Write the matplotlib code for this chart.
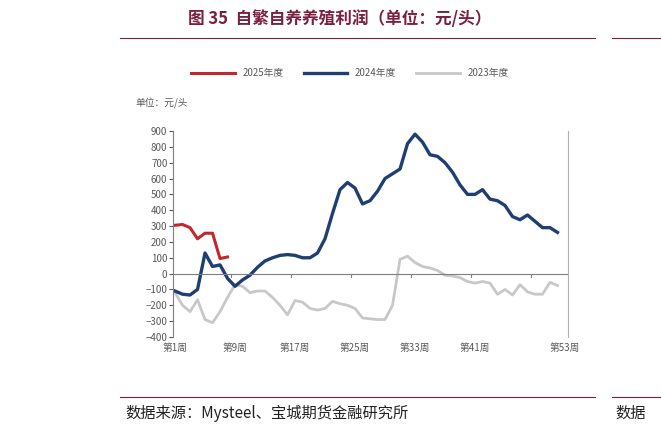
import matplotlib.pyplot as plt
import numpy as np

plt.rcParams['font.family'] = ['Noto Sans CJK SC', 'DejaVu Sans']

# 数据
weeks_2024 = list(range(1, 53))
profit_2024 = [-110, -130, -135, -100, 130, 45, 55, -30, -80, -40, -10, 40, 80, 100, 115, 120,
               115, 100, 100, 130, 220, 380, 530, 575, 540, 440, 460, 520, 600, 630, 660, 820,
               880, 830, 750, 740, 700, 640, 560, 500, 500, 530, 470, 460, 430, 360, 340, 370,
               330, 290, 290, 260]
weeks_2025 = list(range(1, 9))
profit_2025 = [305, 310, 290, 220, 255, 255, 95, 105]
weeks_2023 = list(range(1, 53))
profit_2023 = [-120, -200, -240, -165, -290, -310, -240, -150, -70, -80, -120, -110, -110, -150,
               -200, -260, -170, -180, -220, -230, -220, -175, -190, -200, -220, -280, -285, -290,
               -290, -200, 90, 110, 70, 45, 35, 20, -10, -15, -25, -50, -60, -50, -60, -130,
               -100, -135, -70, -115, -130, -130, -55, -75]
tick_weeks = [1, 9, 17, 25, 33, 41, 53]
tick_labels = ['第1周', '第9周', '第17周', '第25周', '第33周', '第41周', '第53周']

W, H = 661, 433
fig = plt.figure(figsize=(W / 100, H / 100), dpi=100)
ax = fig.add_axes([173 / W, 1 - 337 / H, (568 - 173) / W, (337 - 131) / H])

grey = '#7f7f7f'
ax.plot(weeks_2023, profit_2023, color='#c8c8c8', lw=2, label='2023年度')
ax.plot(weeks_2024, profit_2024, color='#1f3f73', lw=2.4, label='2024年度')
ax.plot(weeks_2025, profit_2025, color='#c0282d', lw=2.2, label='2025年度')

ax.set_xlim(0.73, 53.4)
ax.set_ylim(-400, 900)
ax.set_yticks(range(-400, 901, 100))
ax.tick_params(axis='y', labelsize=7, colors='#595959', length=3, pad=1)
ax.set_xticks(tick_weeks)
ax.set_xticklabels(tick_labels)
ax.tick_params(axis='x', labelsize=7, colors='#595959', length=0, pad=4)
for s in ['top', 'bottom']:
    ax.spines[s].set_visible(False)
ax.spines['left'].set_color(grey)
ax.spines['right'].set_color('#b0b0b0')
ax.axhline(0, color=grey, lw=0.8)
for t in np.arange(8.5, 53, 8):
    ax.plot([t, t], [0, -22], color=grey, lw=0.8)

h, l = ax.get_legend_handles_labels()
fig.legend(h[::-1], l[::-1], loc='center', bbox_to_anchor=(350 / W, 1 - 73 / H), ncol=3,
           frameon=False, fontsize=7, labelcolor='#595959', handlelength=4.5, columnspacing=2)

fig.text(135 / W, 1 - 103 / H, '单位：元/头', fontsize=7, color='#595959', va='center')
fig.text(340 / W, 1 - 19 / H, '图 35  自繁自养养殖利润（单位：元/头）', fontsize=12,
         color='#7b1f3f', ha='center', va='center', weight='bold')
fig.add_artist(plt.Line2D([120 / W, 595 / W], [1 - 38 / H] * 2, color='#7b1f3f', lw=0.8))
fig.add_artist(plt.Line2D([120 / W, 595 / W], [1 - 397 / H] * 2, color='#7b1f3f', lw=0.8))
fig.add_artist(plt.Line2D([612 / W, 1], [1 - 38 / H] * 2, color='#7b1f3f', lw=0.8))
fig.add_artist(plt.Line2D([612 / W, 1], [1 - 397 / H] * 2, color='#7b1f3f', lw=0.8))
fig.text(125 / W, 1 - 413 / H, '数据来源：Mysteel、宝城期货金融研究所', fontsize=11, color='#222222', va='center')
fig.text(615 / W, 1 - 413 / H, '数据', fontsize=11, color='#222222', va='center')

fig.savefig('out.png', dpi=100)
